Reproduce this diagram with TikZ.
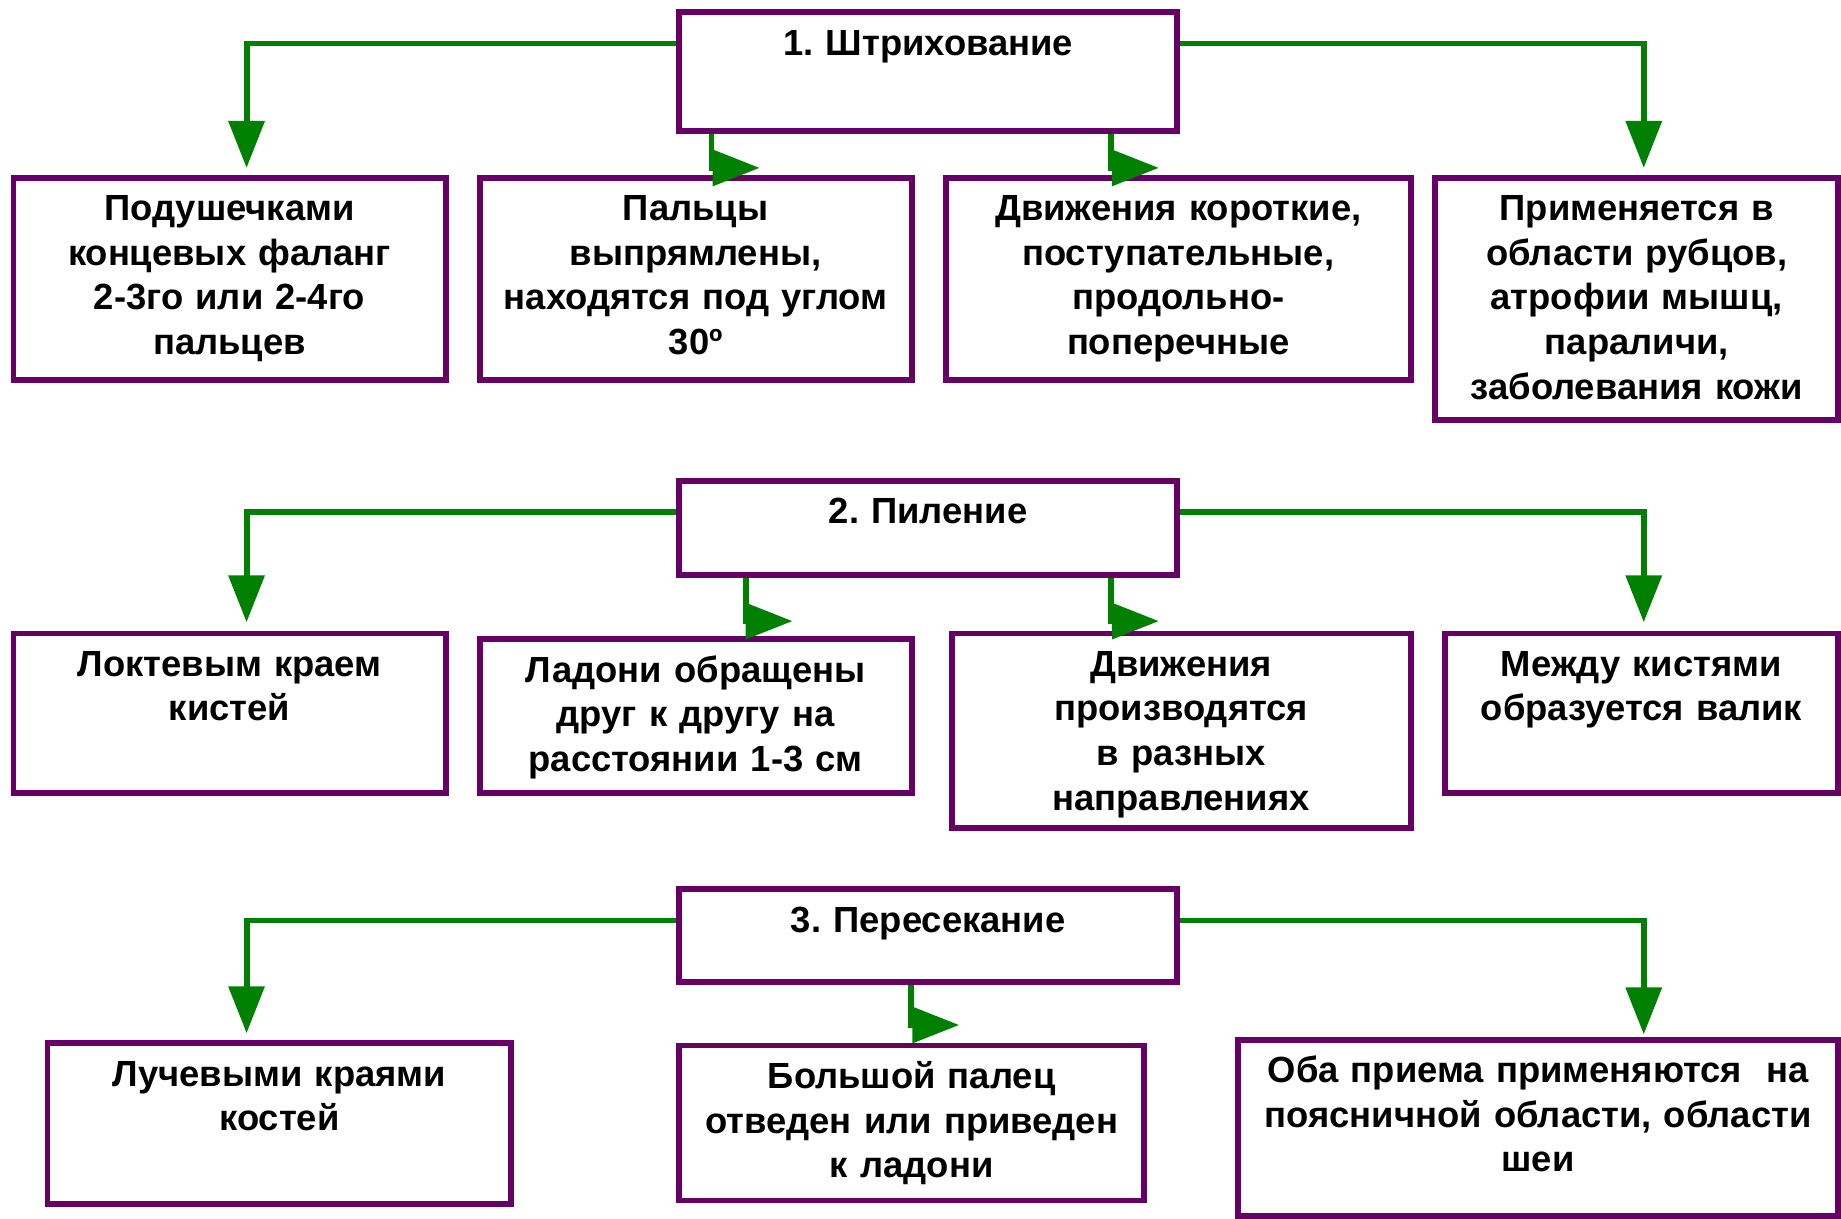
\documentclass[tikz,border=0pt]{standalone}
\usepackage{fontspec}
\setmainfont{Liberation Sans}
\usetikzlibrary{arrows.meta}
\definecolor{framepurple}{RGB}{102,0,102}
\definecolor{arrowgreen}{RGB}{0,128,0}
\frenchspacing
\tikzset{cell/.style={draw=framepurple, line width=5pt, fill=white, anchor=north west,
    inner sep=0pt, align=center, font=\fontsize{31}{38}\selectfont\bfseries, text height=36.5pt},
  link/.style={draw=arrowgreen, line width=5pt, -{Triangle[length=40pt,width=30pt]}}}

\begin{document}
\begin{tikzpicture}[x=1pt,y=-1pt]
		\useasboundingbox (0,0) rectangle (1568,1038);
		\node[cell, text width=424pt, text depth=64.5pt] (t1) at (576,8) {1. Штрихование};
		\node[cell, text width=368pt, text depth=135.5pt] (b11) at (9,149) {Подушечками\\ концевых фаланг\\ 2-3го или 2-4го\\ пальцев};
		\node[cell, text width=368pt, text depth=135.5pt] (b12) at (406,149) {Пальцы\\ выпрямлены,\\ находятся под углом\\ 30º};
		\node[cell, text width=396pt, text depth=135.5pt] (b13) at (803,149) {Движения короткие,\\ поступательные,\\ продольно-\\ поперечные};
		\node[cell, text width=343pt, text depth=169.5pt] (b14) at (1220,149) {Применяется в\\ области рубцов,\\ атрофии мышц,\\ параличи,\\ заболевания кожи};
		\node[cell, text width=424pt, text depth=43.5pt] (t2) at (576,407) {2. Пиление};
		\node[cell, text width=368pt, text depth=99.5pt] (b21) at (9,537) {Локтевым краем\\ кистей};
		\node[cell, text width=368pt, text depth=94.5pt] (b22) at (406,542) {Ладони обращены\\ друг к другу на\\ расстоянии 1-3 см};
		\node[cell, text width=391pt, text depth=129.5pt] (b23) at (808,537) {Движения\\ производятся\\ в разных\\ направлениях};
		\node[cell, text width=335pt, text depth=99.5pt] (b24) at (1228,537) {Между кистями\\ образуется валик};
		\node[cell, text width=424pt, text depth=42.5pt] (t3) at (576,755) {3. Пересекание};
		\node[cell, text width=395pt, text depth=100.5pt] (b31) at (38,886) {Лучевыми краями\\ костей};
		\node[cell, text width=396pt, text depth=95.5pt] (b32) at (576,888) {Большой палец\\ отведен или приведен\\ к ладони};
		\node[cell, text width=511pt, text depth=113.5pt] (b33) at (1052,883) {Оба приема применяются~ на\\ поясничной области, области\\ шеи};
		\draw[link, shorten >=6pt] ([yshift=-29pt]t1.north west) -| ([xshift=14.5pt]b11.north);
		\draw[link, shorten >=6pt] ([yshift=-29pt]t1.north east) -| ([xshift=6pt]b14.north);
		\draw[link] ([xshift=-184.5pt]t1.south) -- ++(0,29) -- ++(41,0);
		\draw[link] ([xshift=155.5pt]t1.south) -- ++(0,29) -- ++(41,0);
		\draw[link, shorten >=7pt] ([yshift=-29pt]t2.north west) -| ([xshift=14.5pt]b21.north);
		\draw[link, shorten >=7pt] ([yshift=-29pt]t2.north east) -| ([xshift=2pt]b24.north);
		\draw[link] ([xshift=-155.5pt]t2.south) -- ++(0,37) -- ++(40,0);
		\draw[link] ([xshift=155.5pt]t2.south) -- ++(0,37) -- ++(41,0);
		\draw[link, shorten >=6pt] ([yshift=-29pt]t3.north west) -| ([xshift=-28pt]b31.north);
		\draw[link, shorten >=2pt] ([yshift=-29pt]t3.north east) -| ([xshift=90pt]b33.north);
		\draw[link] ([xshift=-14.5pt]t3.south) -- ++(0,34) -- ++(41,0);
	\end{tikzpicture}
\end{document}
